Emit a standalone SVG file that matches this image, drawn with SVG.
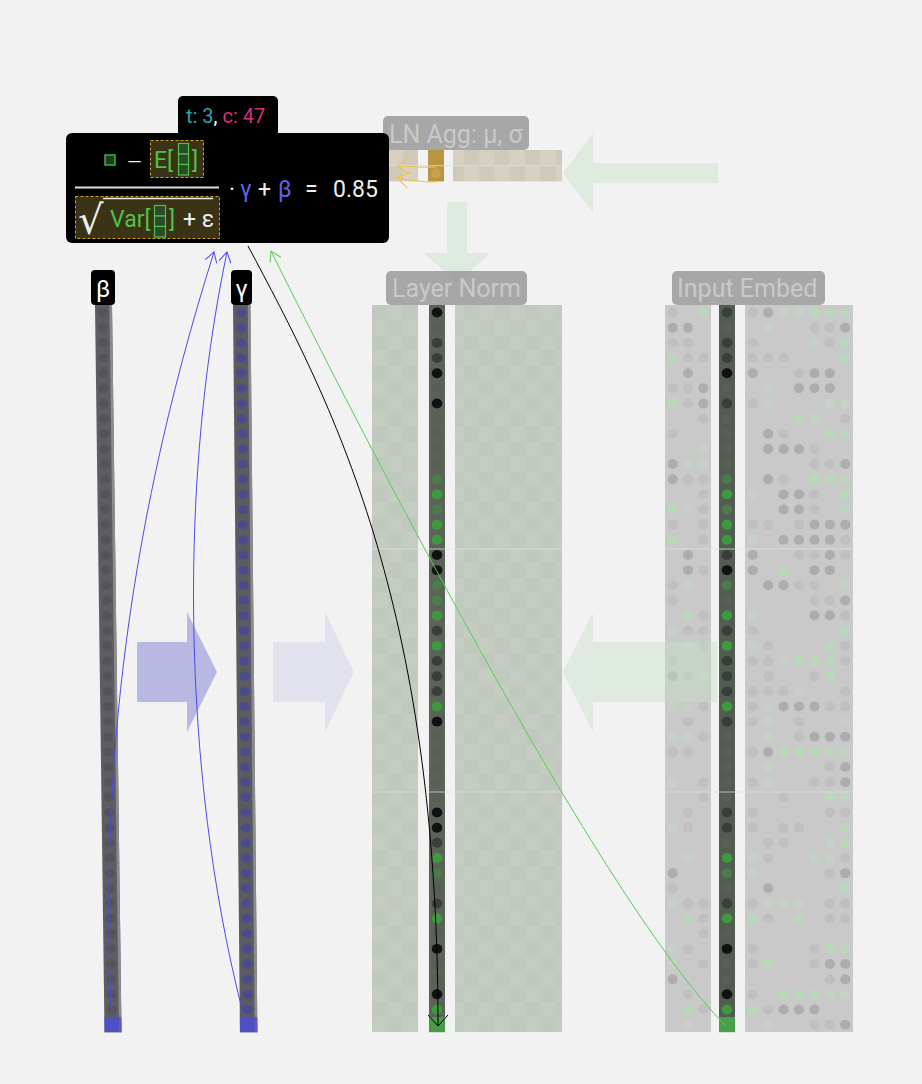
<svg xmlns="http://www.w3.org/2000/svg" width="922" height="1084" viewBox="0 0 922 1084">
<defs>
<style>
text{font-family:Roboto,"Liberation Sans",sans-serif}
.lbl{fill:#888;opacity:.7}
.lbt{fill:#c9c9c9;font-size:25px}
.g{fill:#adadad}.l{fill:#bfbfbf}.G{fill:#bad8ba}.Gf{fill:#c5d2c5}
.k{fill:#111}.d{fill:#3a3e3a}.f{fill:#566055}.gn{fill:#3e9a3e}.gd{fill:#4b7c4b}
.ga{fill:#c8e1c8;opacity:.45}
.ft{font-size:23px;fill:#eee}
.fg{fill:#4cc24c}
.fb{fill:#6464e6}
.cell{fill:#2c4a2c;stroke:#4cc24c;stroke-width:1.2}
.dash{fill:#3a3316;stroke:#c9a232;stroke-dasharray:3 2}
.con{fill:none;stroke-width:1}
.hl{stroke:#dfe3dd;stroke-width:1;opacity:.7}
</style>
<pattern id="chk" patternUnits="userSpaceOnUse" x="372" y="305" width="30.6" height="30.3">
<rect width="30.6" height="30.3" fill="#c5cdc2"/>
<rect width="15.3" height="15.15" fill="#c0c9bd"/>
<rect x="15.3" y="15.15" width="15.3" height="15.15" fill="#c0c9bd"/>
</pattern>
<pattern id="agg" patternUnits="userSpaceOnUse" x="372" y="150" width="30.6" height="31.4">
<rect width="30.6" height="31.4" fill="#d6d1c2"/>
<rect width="15.3" height="15.7" fill="#cec9ba"/>
<rect x="15.3" y="15.7" width="15.3" height="15.7" fill="#cec9ba"/>
</pattern>
<pattern id="bdots" patternUnits="userSpaceOnUse" width="1" height="1"><circle cx=".45" cy=".5" r=".3" fill="#545458"/></pattern>
<pattern id="gdots" patternUnits="userSpaceOnUse" width="1" height="1"><circle cx=".45" cy=".5" r=".3" fill="#4a4a8c"/></pattern>
<marker id="mb" markerUnits="userSpaceOnUse" markerWidth="14" markerHeight="16" viewBox="-12 -8 14 16" refX="0" refY="0" orient="auto"><path d="M-10,-6 L0,0 L-10,6" fill="none" stroke="#4a4af0"/></marker>
<marker id="mk" markerUnits="userSpaceOnUse" markerWidth="16" markerHeight="20" viewBox="-14 -10 16 20" refX="0" refY="0" orient="auto"><path d="M-11,-10 L0,0 L-11,10" fill="none" stroke="#000"/></marker>
<marker id="mg" markerUnits="userSpaceOnUse" markerWidth="14" markerHeight="16" viewBox="-12 -8 14 16" refX="0" refY="0" orient="auto"><path d="M-10,-6 L0,0 L-10,6" fill="none" stroke="#5cc85c"/></marker>
<marker id="my" markerUnits="userSpaceOnUse" markerWidth="16" markerHeight="20" viewBox="-14 -10 16 20" refX="0" refY="0" orient="auto"><path d="M-12,-8 L0,0 L-12,8" fill="none" stroke="#f0c040"/></marker>
</defs>
<rect width="922" height="1084" fill="#f2f2f2"/>

<g id="flow-arrows">
<polygon class="ga" points="718,163 593,163 593,133 563,173 593,213 593,183 718,183"/>
<polygon class="ga" points="447,202 467,202 467,253 490,253 457,283 424,253 447,253"/>
<polygon fill="#b8b8e2" points="137,642 187,642 187,612 217,672 187,732 187,702 137,702"/>
<polygon fill="#e2e2ee" points="273,642 325,642 325,612 354,672 325,732 325,702 273,702"/>
</g>

<g id="ln-agg">
<rect x="372" y="150" width="46" height="31.4" fill="url(#agg)"/>
<rect x="453" y="150" width="109" height="31.4" fill="url(#agg)"/>
<rect x="428" y="150" width="16" height="31.4" fill="#b89444"/>
<line x1="372" y1="165.7" x2="562" y2="165.7" stroke="#e2ddd0" stroke-width=".8"/>
<circle cx="436" cy="173.5" r="5" fill="#c8a24c"/>
<rect class="lbl" x="383" y="116" width="146" height="34" rx="5"/>
<text class="lbt" x="389" y="143">LN Agg: μ, σ</text>
</g>

<g id="beta">
<g transform="translate(95,305) skewX(0.75) scale(17,15.15)">
<rect width="1" height="48" fill="#5d5d62"/>
<rect x=".85" width=".15" height="48" fill="#8c8c90"/>
<rect width="1" height="47" fill="url(#bdots)"/>
<rect y="47" width="1" height="1" fill="#4d4dd8" opacity=".8"/>
</g>
<rect x="91" y="270" width="24" height="35" rx="4" fill="#000"/>
<text x="103" y="297" font-size="24" fill="#fff" text-anchor="middle">β</text>
</g>

<g id="gamma">
<g transform="translate(233,305) skewX(0.55) scale(17.4,15.15)">
<rect width="1" height="48" fill="#5b5b60"/>
<rect x=".85" width=".15" height="48" fill="#8c8c90"/>
<rect width="1" height="47" fill="url(#gdots)"/>
<rect y="47" width="1" height="1" fill="#4d4dd8" opacity=".8"/>
</g>
<rect x="231" y="270" width="21" height="35" rx="4" fill="#000"/>
<text x="241.5" y="297" font-size="24" fill="#fff" text-anchor="middle">γ</text>
</g>

<g id="layer-norm">
<rect x="372" y="305" width="46" height="727" fill="url(#chk)"/>
<rect x="455" y="305" width="107" height="727" fill="url(#chk)"/>
<rect x="429" y="305" width="16" height="727" fill="#5b6359"/>
<g transform="translate(429,305) scale(16,15.15)">
<circle class="k" cx=".5" cy=".5" r=".33"/><circle class="f" cx=".5" cy="1.5" r=".33"/><circle class="d" cx=".5" cy="2.5" r=".33"/><circle class="d" cx=".5" cy="3.5" r=".33"/><circle class="k" cx=".5" cy="4.5" r=".33"/><circle class="f" cx=".5" cy="5.5" r=".33"/><circle class="k" cx=".5" cy="6.5" r=".33"/><circle class="f" cx=".5" cy="7.5" r=".33"/><circle class="f" cx=".5" cy="8.5" r=".33"/><circle class="f" cx=".5" cy="9.5" r=".33"/><circle class="f" cx=".5" cy="10.5" r=".33"/><circle class="gd" cx=".5" cy="11.5" r=".33"/><circle class="gn" cx=".5" cy="12.5" r=".33"/><circle class="gd" cx=".5" cy="13.5" r=".33"/><circle class="gn" cx=".5" cy="14.5" r=".33"/><circle class="gn" cx=".5" cy="15.5" r=".33"/><circle class="k" cx=".5" cy="16.5" r=".33"/><circle class="k" cx=".5" cy="17.5" r=".33"/><circle class="gd" cx=".5" cy="18.5" r=".33"/><circle class="gd" cx=".5" cy="19.5" r=".33"/><circle class="gn" cx=".5" cy="20.5" r=".33"/><circle class="d" cx=".5" cy="21.5" r=".33"/><circle class="gn" cx=".5" cy="22.5" r=".33"/><circle class="d" cx=".5" cy="23.5" r=".33"/><circle class="d" cx=".5" cy="24.5" r=".33"/><circle class="d" cx=".5" cy="25.5" r=".33"/><circle class="gn" cx=".5" cy="26.5" r=".33"/><circle class="k" cx=".5" cy="27.5" r=".33"/><circle class="f" cx=".5" cy="28.5" r=".33"/><circle class="f" cx=".5" cy="29.5" r=".33"/><circle class="f" cx=".5" cy="30.5" r=".33"/><circle class="f" cx=".5" cy="31.5" r=".33"/><circle class="f" cx=".5" cy="32.5" r=".33"/><circle class="k" cx=".5" cy="33.5" r=".33"/><circle class="k" cx=".5" cy="34.5" r=".33"/><circle class="d" cx=".5" cy="35.5" r=".33"/><circle class="gn" cx=".5" cy="36.5" r=".33"/><circle class="gd" cx=".5" cy="37.5" r=".33"/><circle class="f" cx=".5" cy="38.5" r=".33"/><circle class="d" cx=".5" cy="39.5" r=".33"/><circle class="gn" cx=".5" cy="40.5" r=".33"/><circle class="f" cx=".5" cy="41.5" r=".33"/><circle class="k" cx=".5" cy="42.5" r=".33"/><circle class="f" cx=".5" cy="43.5" r=".33"/><circle class="f" cx=".5" cy="44.5" r=".33"/><circle class="k" cx=".5" cy="45.5" r=".33"/><circle class="gn" cx=".5" cy="46.5" r=".33"/>
<rect y="47" width="1" height="1" fill="#4a9a4a"/>
</g>
<line class="hl" x1="372" y1="549" x2="562" y2="549"/>
<line class="hl" x1="372" y1="792" x2="562" y2="792"/>
<rect class="lbl" x="386" y="271" width="141" height="34" rx="5"/>
<text class="lbt" x="392" y="297">Layer Norm</text>
</g>

<g id="input-embed">
<rect x="665" y="305" width="46" height="727" fill="#c9c9c9"/>
<rect x="745" y="305" width="108" height="727" fill="#c9c9c9"/>
<g transform="translate(665,305) scale(15.33,15.15)">
<circle class="l" cx=".5" cy=".5" r=".33"/><circle class="G" cx="2.5" cy=".5" r=".33"/>
<circle class="g" cx=".5" cy="1.5" r=".33"/><circle class="g" cx="1.5" cy="1.5" r=".33"/>
<circle class="l" cx=".5" cy="2.5" r=".33"/><circle class="l" cx="1.5" cy="2.5" r=".33"/>
<circle class="G" cx=".5" cy="3.5" r=".33"/><circle class="l" cx="1.5" cy="3.5" r=".33"/><circle class="l" cx="2.5" cy="3.5" r=".33"/>
<circle class="g" cx="1.5" cy="4.5" r=".33"/>
<circle class="l" cx=".5" cy="5.5" r=".33"/><circle class="l" cx="1.5" cy="5.5" r=".33"/><circle class="g" cx="2.5" cy="5.5" r=".33"/>
<circle class="G" cx=".5" cy="6.5" r=".33"/><circle class="l" cx="1.5" cy="6.5" r=".33"/><circle class="g" cx="2.5" cy="6.5" r=".33"/>
<circle class="l" cx="2.5" cy="7.5" r=".33"/>
<circle class="l" cx=".5" cy="8.5" r=".33"/>
<circle class="Gf" cx="2.5" cy="9.5" r=".33"/>
<circle class="g" cx=".5" cy="10.5" r=".33"/><circle class="Gf" cx="1.5" cy="10.5" r=".33"/><circle class="Gf" cx="2.5" cy="10.5" r=".33"/>
<circle class="g" cx=".5" cy="11.5" r=".33"/><circle class="l" cx="1.5" cy="11.5" r=".33"/><circle class="l" cx="2.5" cy="11.5" r=".33"/>
<circle class="l" cx="2.5" cy="12.5" r=".33"/>
<circle class="G" cx=".5" cy="13.5" r=".33"/><circle class="Gf" cx="1.5" cy="13.5" r=".33"/><circle class="l" cx="2.5" cy="13.5" r=".33"/>
<circle class="l" cx=".5" cy="14.5" r=".33"/><circle class="l" cx="2.5" cy="14.5" r=".33"/>
<circle class="G" cx=".5" cy="15.5" r=".33"/><circle class="l" cx="2.5" cy="15.5" r=".33"/>
<circle class="g" cx="1.5" cy="16.5" r=".33"/>
<circle class="g" cx="1.5" cy="17.5" r=".33"/><circle class="l" cx="2.5" cy="17.5" r=".33"/>
<circle class="l" cx=".5" cy="18.5" r=".33"/><circle class="Gf" cx="1.5" cy="18.5" r=".33"/>
<circle class="l" cx=".5" cy="19.5" r=".33"/>
<circle class="G" cx="1.5" cy="20.5" r=".33"/><circle class="l" cx="2.5" cy="20.5" r=".33"/>
<circle class="Gf" cx=".5" cy="21.5" r=".33"/><circle class="l" cx="1.5" cy="21.5" r=".33"/><circle class="l" cx="2.5" cy="21.5" r=".33"/>
<circle class="Gf" cx="1.5" cy="22.5" r=".33"/><circle class="l" cx="2.5" cy="22.5" r=".33"/>
<circle class="l" cx=".5" cy="23.5" r=".33"/>
<circle class="g" cx=".5" cy="24.5" r=".33"/><circle class="l" cx="1.5" cy="24.5" r=".33"/><circle class="Gf" cx="2.5" cy="24.5" r=".33"/>
<circle class="Gf" cx=".5" cy="26.5" r=".33"/><circle class="Gf" cx="1.5" cy="26.5" r=".33"/><circle class="l" cx="2.5" cy="26.5" r=".33"/>
<circle class="l" cx="1.5" cy="27.5" r=".33"/>
<circle class="Gf" cx=".5" cy="28.5" r=".33"/><circle class="Gf" cx="1.5" cy="28.5" r=".33"/><circle class="l" cx="2.5" cy="28.5" r=".33"/>
<circle class="l" cx=".5" cy="29.5" r=".33"/><circle class="l" cx="1.5" cy="29.5" r=".33"/>
<circle class="Gf" cx=".5" cy="31.5" r=".33"/><circle class="l" cx="2.5" cy="31.5" r=".33"/>
<circle class="l" cx="2.5" cy="32.5" r=".33"/>
<circle class="l" cx="1.5" cy="33.5" r=".33"/>
<circle class="Gf" cx=".5" cy="34.5" r=".33"/><circle class="l" cx="1.5" cy="34.5" r=".33"/>
<circle class="Gf" cx="1.5" cy="36.5" r=".33"/>
<circle class="g" cx=".5" cy="37.5" r=".33"/>
<circle class="l" cx=".5" cy="38.5" r=".33"/>
<circle class="Gf" cx=".5" cy="39.5" r=".33"/><circle class="l" cx="1.5" cy="39.5" r=".33"/><circle class="l" cx="2.5" cy="39.5" r=".33"/>
<circle class="G" cx="1.5" cy="40.5" r=".33"/><circle class="l" cx="2.5" cy="40.5" r=".33"/>
<circle class="l" cx="2.5" cy="41.5" r=".33"/>
<circle class="Gf" cx=".5" cy="42.5" r=".33"/><circle class="l" cx="1.5" cy="42.5" r=".33"/>
<circle class="Gf" cx=".5" cy="43.5" r=".33"/><circle class="l" cx="2.5" cy="43.5" r=".33"/>
<circle class="g" cx=".5" cy="44.5" r=".33"/>
<circle class="l" cx="1.5" cy="45.5" r=".33"/>
<circle class="G" cx="1.5" cy="46.5" r=".33"/><circle class="l" cx="2.5" cy="46.5" r=".33"/>
<circle class="Gf" cx="1.5" cy="47.5" r=".33"/>
</g>
<g transform="translate(745,305) scale(15.43,15.15)">
<circle class="l" cx=".5" cy=".5" r=".33"/><circle class="g" cx="1.5" cy=".5" r=".33"/><circle class="Gf" cx="2.5" cy=".5" r=".33"/><circle class="Gf" cx="3.5" cy=".5" r=".33"/><circle class="G" cx="4.5" cy=".5" r=".33"/><circle class="G" cx="5.5" cy=".5" r=".33"/><circle class="G" cx="6.5" cy=".5" r=".33"/>
<circle class="Gf" cx="1.5" cy="1.5" r=".33"/><circle class="l" cx="4.5" cy="1.5" r=".33"/><circle class="l" cx="5.5" cy="1.5" r=".33"/><circle class="g" cx="6.5" cy="1.5" r=".33"/>
<circle class="l" cx=".5" cy="2.5" r=".33"/><circle class="Gf" cx="4.5" cy="2.5" r=".33"/><circle class="l" cx="5.5" cy="2.5" r=".33"/><circle class="G" cx="6.5" cy="2.5" r=".33"/>
<circle class="l" cx=".5" cy="3.5" r=".33"/><circle class="l" cx="1.5" cy="3.5" r=".33"/><circle class="l" cx="2.5" cy="3.5" r=".33"/><circle class="G" cx="6.5" cy="3.5" r=".33"/>
<circle class="g" cx=".5" cy="4.5" r=".33"/><circle class="l" cx="3.5" cy="4.5" r=".33"/><circle class="g" cx="4.5" cy="4.5" r=".33"/><circle class="g" cx="5.5" cy="4.5" r=".33"/>
<circle class="Gf" cx="1.5" cy="5.5" r=".33"/><circle class="g" cx="3.5" cy="5.5" r=".33"/><circle class="g" cx="4.5" cy="5.5" r=".33"/><circle class="g" cx="5.5" cy="5.5" r=".33"/>
<circle class="l" cx=".5" cy="6.5" r=".33"/><circle class="Gf" cx="1.5" cy="6.5" r=".33"/><circle class="Gf" cx="5.5" cy="6.5" r=".33"/><circle class="Gf" cx="6.5" cy="6.5" r=".33"/>
<circle class="G" cx="3.5" cy="7.5" r=".33"/><circle class="Gf" cx="4.5" cy="7.5" r=".33"/><circle class="l" cx="6.5" cy="7.5" r=".33"/>
<circle class="g" cx="1.5" cy="8.5" r=".33"/><circle class="l" cx="2.5" cy="8.5" r=".33"/><circle class="G" cx="5.5" cy="8.5" r=".33"/><circle class="G" cx="6.5" cy="8.5" r=".33"/>
<circle class="g" cx="1.5" cy="9.5" r=".33"/><circle class="g" cx="2.5" cy="9.5" r=".33"/><circle class="g" cx="3.5" cy="9.5" r=".33"/><circle class="l" cx="4.5" cy="9.5" r=".33"/>
<circle class="l" cx="4.5" cy="10.5" r=".33"/><circle class="l" cx="5.5" cy="10.5" r=".33"/><circle class="g" cx="6.5" cy="10.5" r=".33"/>
<circle class="g" cx="1.5" cy="11.5" r=".33"/><circle class="l" cx="2.5" cy="11.5" r=".33"/><circle class="G" cx="4.5" cy="11.5" r=".33"/><circle class="G" cx="5.5" cy="11.5" r=".33"/><circle class="G" cx="6.5" cy="11.5" r=".33"/>
<circle class="Gf" cx=".5" cy="12.5" r=".33"/><circle class="g" cx="2.5" cy="12.5" r=".33"/><circle class="g" cx="3.5" cy="12.5" r=".33"/><circle class="l" cx="4.5" cy="12.5" r=".33"/><circle class="G" cx="6.5" cy="12.5" r=".33"/>
<circle class="g" cx="2.5" cy="13.5" r=".33"/><circle class="g" cx="3.5" cy="13.5" r=".33"/><circle class="l" cx="4.5" cy="13.5" r=".33"/><circle class="G" cx="6.5" cy="13.5" r=".33"/>
<circle class="l" cx=".5" cy="14.5" r=".33"/><circle class="l" cx="1.5" cy="14.5" r=".33"/><circle class="l" cx="3.5" cy="14.5" r=".33"/><circle class="g" cx="4.5" cy="14.5" r=".33"/><circle class="g" cx="5.5" cy="14.5" r=".33"/><circle class="g" cx="6.5" cy="14.5" r=".33"/>
<circle class="Gf" cx=".5" cy="15.5" r=".33"/><circle class="g" cx="2.5" cy="15.5" r=".33"/><circle class="g" cx="3.5" cy="15.5" r=".33"/><circle class="g" cx="4.5" cy="15.5" r=".33"/><circle class="g" cx="5.5" cy="15.5" r=".33"/><circle class="l" cx="6.5" cy="15.5" r=".33"/>
<circle class="g" cx=".5" cy="16.5" r=".33"/><circle class="l" cx="3.5" cy="16.5" r=".33"/><circle class="l" cx="4.5" cy="16.5" r=".33"/><circle class="g" cx="5.5" cy="16.5" r=".33"/><circle class="l" cx="6.5" cy="16.5" r=".33"/>
<circle class="g" cx=".5" cy="17.5" r=".33"/><circle class="G" cx="2.5" cy="17.5" r=".33"/><circle class="g" cx="4.5" cy="17.5" r=".33"/><circle class="g" cx="5.5" cy="17.5" r=".33"/>
<circle class="g" cx="1.5" cy="18.5" r=".33"/><circle class="g" cx="2.5" cy="18.5" r=".33"/><circle class="l" cx="3.5" cy="18.5" r=".33"/><circle class="l" cx="4.5" cy="18.5" r=".33"/><circle class="Gf" cx="6.5" cy="18.5" r=".33"/>
<circle class="l" cx="4.5" cy="19.5" r=".33"/><circle class="l" cx="5.5" cy="19.5" r=".33"/><circle class="g" cx="6.5" cy="19.5" r=".33"/>
<circle class="Gf" cx=".5" cy="20.5" r=".33"/><circle class="g" cx="4.5" cy="20.5" r=".33"/><circle class="g" cx="5.5" cy="20.5" r=".33"/><circle class="l" cx="6.5" cy="20.5" r=".33"/>
<circle class="l" cx=".5" cy="21.5" r=".33"/><circle class="G" cx="6.5" cy="21.5" r=".33"/>
<circle class="Gf" cx=".5" cy="22.5" r=".33"/><circle class="l" cx="1.5" cy="22.5" r=".33"/><circle class="G" cx="5.5" cy="22.5" r=".33"/><circle class="l" cx="6.5" cy="22.5" r=".33"/>
<circle class="l" cx=".5" cy="23.5" r=".33"/><circle class="l" cx="1.5" cy="23.5" r=".33"/><circle class="Gf" cx="2.5" cy="23.5" r=".33"/><circle class="G" cx="3.5" cy="23.5" r=".33"/><circle class="G" cx="4.5" cy="23.5" r=".33"/><circle class="G" cx="5.5" cy="23.5" r=".33"/><circle class="l" cx="6.5" cy="23.5" r=".33"/>
<circle class="l" cx="1.5" cy="24.5" r=".33"/><circle class="l" cx="4.5" cy="24.5" r=".33"/><circle class="G" cx="5.5" cy="24.5" r=".33"/>
<circle class="l" cx=".5" cy="25.5" r=".33"/><circle class="l" cx="1.5" cy="25.5" r=".33"/><circle class="l" cx="2.5" cy="25.5" r=".33"/><circle class="Gf" cx="3.5" cy="25.5" r=".33"/><circle class="l" cx="6.5" cy="25.5" r=".33"/>
<circle class="l" cx=".5" cy="26.5" r=".33"/><circle class="Gf" cx="1.5" cy="26.5" r=".33"/><circle class="g" cx="2.5" cy="26.5" r=".33"/><circle class="g" cx="3.5" cy="26.5" r=".33"/><circle class="g" cx="4.5" cy="26.5" r=".33"/><circle class="l" cx="5.5" cy="26.5" r=".33"/><circle class="l" cx="6.5" cy="26.5" r=".33"/>
<circle class="l" cx=".5" cy="27.5" r=".33"/><circle class="Gf" cx="1.5" cy="27.5" r=".33"/><circle class="l" cx="3.5" cy="27.5" r=".33"/><circle class="Gf" cx="6.5" cy="27.5" r=".33"/>
<circle class="Gf" cx="1.5" cy="28.5" r=".33"/><circle class="l" cx="3.5" cy="28.5" r=".33"/><circle class="g" cx="4.5" cy="28.5" r=".33"/><circle class="g" cx="5.5" cy="28.5" r=".33"/><circle class="g" cx="6.5" cy="28.5" r=".33"/>
<circle class="l" cx=".5" cy="29.5" r=".33"/><circle class="g" cx="1.5" cy="29.5" r=".33"/><circle class="G" cx="2.5" cy="29.5" r=".33"/><circle class="G" cx="3.5" cy="29.5" r=".33"/><circle class="G" cx="4.5" cy="29.5" r=".33"/><circle class="G" cx="5.5" cy="29.5" r=".33"/><circle class="Gf" cx="6.5" cy="29.5" r=".33"/>
<circle class="Gf" cx="1.5" cy="30.5" r=".33"/><circle class="l" cx="5.5" cy="30.5" r=".33"/><circle class="g" cx="6.5" cy="30.5" r=".33"/>
<circle class="l" cx=".5" cy="31.5" r=".33"/><circle class="Gf" cx="1.5" cy="31.5" r=".33"/><circle class="l" cx="4.5" cy="31.5" r=".33"/><circle class="l" cx="5.5" cy="31.5" r=".33"/><circle class="g" cx="6.5" cy="31.5" r=".33"/>
<circle class="l" cx="2.5" cy="32.5" r=".33"/><circle class="G" cx="5.5" cy="32.5" r=".33"/><circle class="G" cx="6.5" cy="32.5" r=".33"/>
<circle class="l" cx=".5" cy="33.5" r=".33"/><circle class="l" cx="5.5" cy="33.5" r=".33"/><circle class="l" cx="6.5" cy="33.5" r=".33"/>
<circle class="l" cx=".5" cy="34.5" r=".33"/><circle class="l" cx="2.5" cy="34.5" r=".33"/><circle class="l" cx="3.5" cy="34.5" r=".33"/><circle class="G" cx="6.5" cy="34.5" r=".33"/>
<circle class="l" cx="1.5" cy="35.5" r=".33"/><circle class="l" cx="2.5" cy="35.5" r=".33"/><circle class="Gf" cx="5.5" cy="35.5" r=".33"/><circle class="G" cx="6.5" cy="35.5" r=".33"/>
<circle class="Gf" cx=".5" cy="36.5" r=".33"/><circle class="l" cx="1.5" cy="36.5" r=".33"/><circle class="Gf" cx="4.5" cy="36.5" r=".33"/><circle class="Gf" cx="5.5" cy="36.5" r=".33"/><circle class="l" cx="6.5" cy="36.5" r=".33"/>
<circle class="Gf" cx=".5" cy="37.5" r=".33"/><circle class="l" cx="5.5" cy="37.5" r=".33"/><circle class="g" cx="6.5" cy="37.5" r=".33"/>
<circle class="g" cx="1.5" cy="38.5" r=".33"/><circle class="G" cx="6.5" cy="38.5" r=".33"/>
<circle class="l" cx=".5" cy="39.5" r=".33"/><circle class="Gf" cx="1.5" cy="39.5" r=".33"/><circle class="Gf" cx="2.5" cy="39.5" r=".33"/><circle class="Gf" cx="3.5" cy="39.5" r=".33"/><circle class="l" cx="5.5" cy="39.5" r=".33"/><circle class="l" cx="6.5" cy="39.5" r=".33"/>
<circle class="G" cx=".5" cy="40.5" r=".33"/><circle class="l" cx="1.5" cy="40.5" r=".33"/><circle class="G" cx="3.5" cy="40.5" r=".33"/><circle class="l" cx="5.5" cy="40.5" r=".33"/><circle class="l" cx="6.5" cy="40.5" r=".33"/>
<circle class="l" cx=".5" cy="42.5" r=".33"/><circle class="l" cx="4.5" cy="42.5" r=".33"/><circle class="G" cx="5.5" cy="42.5" r=".33"/><circle class="G" cx="6.5" cy="42.5" r=".33"/>
<circle class="l" cx=".5" cy="43.5" r=".33"/><circle class="G" cx="1.5" cy="43.5" r=".33"/><circle class="l" cx="4.5" cy="43.5" r=".33"/><circle class="g" cx="5.5" cy="43.5" r=".33"/><circle class="g" cx="6.5" cy="43.5" r=".33"/>
<circle class="l" cx="5.5" cy="44.5" r=".33"/><circle class="g" cx="6.5" cy="44.5" r=".33"/>
<circle class="l" cx=".5" cy="45.5" r=".33"/><circle class="G" cx="2.5" cy="45.5" r=".33"/><circle class="G" cx="3.5" cy="45.5" r=".33"/><circle class="G" cx="4.5" cy="45.5" r=".33"/><circle class="Gf" cx="5.5" cy="45.5" r=".33"/><circle class="Gf" cx="6.5" cy="45.5" r=".33"/>
<circle class="G" cx=".5" cy="46.5" r=".33"/><circle class="l" cx="1.5" cy="46.5" r=".33"/><circle class="g" cx="2.5" cy="46.5" r=".33"/><circle class="g" cx="3.5" cy="46.5" r=".33"/><circle class="g" cx="4.5" cy="46.5" r=".33"/>
<circle class="Gf" cx="1.5" cy="47.5" r=".33"/><circle class="l" cx="4.5" cy="47.5" r=".33"/><circle class="l" cx="5.5" cy="47.5" r=".33"/><circle class="g" cx="6.5" cy="47.5" r=".33"/>
</g>
<rect x="719" y="305" width="16" height="727" fill="#535c51"/>
<g transform="translate(719,305) scale(16,15.15)">
<circle class="d" cx=".5" cy=".5" r=".33"/><circle class="f" cx=".5" cy="1.5" r=".33"/><circle class="d" cx=".5" cy="2.5" r=".33"/><circle class="d" cx=".5" cy="3.5" r=".33"/><circle class="k" cx=".5" cy="4.5" r=".33"/><circle class="f" cx=".5" cy="5.5" r=".33"/><circle class="d" cx=".5" cy="6.5" r=".33"/><circle class="f" cx=".5" cy="7.5" r=".33"/><circle class="f" cx=".5" cy="8.5" r=".33"/><circle class="f" cx=".5" cy="9.5" r=".33"/><circle class="f" cx=".5" cy="10.5" r=".33"/><circle class="gd" cx=".5" cy="11.5" r=".33"/><circle class="gn" cx=".5" cy="12.5" r=".33"/><circle class="gd" cx=".5" cy="13.5" r=".33"/><circle class="gn" cx=".5" cy="14.5" r=".33"/><circle class="gn" cx=".5" cy="15.5" r=".33"/><circle class="d" cx=".5" cy="16.5" r=".33"/><circle class="k" cx=".5" cy="17.5" r=".33"/><circle class="gd" cx=".5" cy="18.5" r=".33"/><circle class="f" cx=".5" cy="19.5" r=".33"/><circle class="gn" cx=".5" cy="20.5" r=".33"/><circle class="d" cx=".5" cy="21.5" r=".33"/><circle class="gn" cx=".5" cy="22.5" r=".33"/><circle class="d" cx=".5" cy="23.5" r=".33"/><circle class="d" cx=".5" cy="24.5" r=".33"/><circle class="d" cx=".5" cy="25.5" r=".33"/><circle class="gn" cx=".5" cy="26.5" r=".33"/><circle class="d" cx=".5" cy="27.5" r=".33"/><circle class="f" cx=".5" cy="28.5" r=".33"/><circle class="f" cx=".5" cy="29.5" r=".33"/><circle class="f" cx=".5" cy="30.5" r=".33"/><circle class="f" cx=".5" cy="31.5" r=".33"/><circle class="f" cx=".5" cy="32.5" r=".33"/><circle class="d" cx=".5" cy="33.5" r=".33"/><circle class="d" cx=".5" cy="34.5" r=".33"/><circle class="f" cx=".5" cy="35.5" r=".33"/><circle class="gn" cx=".5" cy="36.5" r=".33"/><circle class="gd" cx=".5" cy="37.5" r=".33"/><circle class="f" cx=".5" cy="38.5" r=".33"/><circle class="d" cx=".5" cy="39.5" r=".33"/><circle class="gn" cx=".5" cy="40.5" r=".33"/><circle class="f" cx=".5" cy="41.5" r=".33"/><circle class="k" cx=".5" cy="42.5" r=".33"/><circle class="f" cx=".5" cy="43.5" r=".33"/><circle class="f" cx=".5" cy="44.5" r=".33"/><circle class="k" cx=".5" cy="45.5" r=".33"/><circle class="gn" cx=".5" cy="46.5" r=".33"/>
<rect y="47" width="1" height="1" fill="#4aa04a"/>
</g>
<line class="hl" x1="665" y1="549" x2="853" y2="549"/>
<line class="hl" x1="665" y1="792" x2="853" y2="792"/>
<rect class="lbl" x="672" y="271" width="153" height="34" rx="5"/>
<text class="lbt" x="677" y="297">Input Embed</text>
</g>

<polygon id="embed-arrow" class="ga" points="717,642 593,642 593,613 563,672 593,732 593,702 717,702"/>

<g id="connectors">
<path class="con" stroke="#4a4af0" d="M112,1025 C100,800 120,550 214,252" marker-end="url(#mb)"/>
<path class="con" stroke="#4a4af0" d="M247,1028 C185,800 175,500 227,252" marker-end="url(#mb)"/>
<path class="con" stroke="#000" d="M248,246 C330,400 438,600 438,1026" marker-end="url(#mk)"/>
<path class="con" stroke="#5cc85c" d="M726,1026 C600,900 360,430 271,251" marker-end="url(#mg)"/>
<path class="con" stroke="#f0c040" d="M436,167 C420,168 408,166 397,166" marker-end="url(#my)"/>
<path class="con" stroke="#f0c040" d="M436,182 C420,182 408,180 397,178" marker-end="url(#my)"/>
</g>

<g id="formula">
<rect x="178" y="96" width="100" height="46" rx="5" fill="#000"/>
<text x="186" y="123" font-size="20"><tspan fill="#2aa3b3">t: 3</tspan><tspan fill="#fff">, </tspan><tspan fill="#d6307e">c: 47</tspan></text>
<rect x="66" y="133" width="323" height="110" rx="6" fill="#000"/>
<rect x="105" y="155" width="10" height="10" fill="#1d3d1d" stroke="#3fb03f" stroke-width="1.5"/>
<text x="127" y="168" font-size="19" fill="#eee">—</text>
<rect class="dash" x="150.5" y="140.5" width="53" height="37"/>
<text class="ft fg" x="154" y="168">E[</text>
<rect class="cell" x="178.5" y="143.5" width="10" height="10.5"/>
<rect class="cell" x="178.5" y="154" width="10" height="10.5"/>
<rect class="cell" x="178.5" y="164.5" width="10" height="10.5"/>
<text class="ft fg" x="192" y="168">]</text>
<line x1="75" y1="187.5" x2="219" y2="187.5" stroke="#ddd" stroke-width="2"/>
<rect class="dash" x="75.5" y="196.5" width="144" height="42"/>
<text x="78" y="234" font-size="40" fill="#eee" style="font-family:'DejaVu Sans',sans-serif">√</text>
<line x1="103" y1="198.5" x2="213" y2="198.5" stroke="#eee" stroke-width="1.5"/>
<text class="ft fg" x="110" y="227">Var[</text>
<rect class="cell" x="154.5" y="205.5" width="11" height="10.5"/>
<rect class="cell" x="154.5" y="216" width="11" height="10.5"/>
<rect class="cell" x="154.5" y="226.5" width="11" height="10.5"/>
<text class="ft fg" x="169" y="227">]</text>
<text class="ft" x="183" y="227">+ ε</text>
<text class="ft" x="229" y="197">·</text>
<text class="ft fb" x="240" y="197">γ</text>
<text class="ft" x="258" y="197">+</text>
<text class="ft fb" x="278" y="197">β</text>
<text class="ft" x="305" y="197">=</text>
<text class="ft" x="333" y="197">0.85</text>
</g>
</svg>
